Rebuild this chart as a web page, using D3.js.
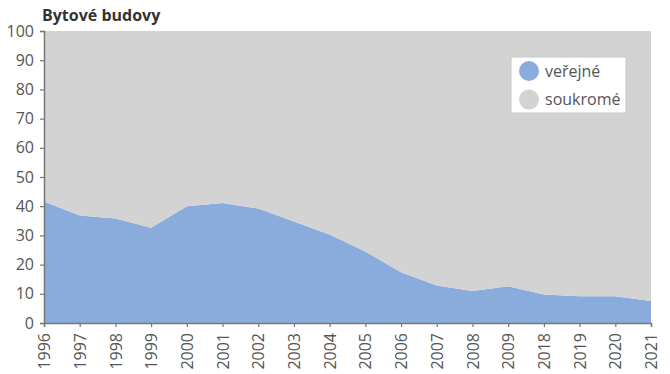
<!DOCTYPE html>
<html>
<head>
<meta charset="utf-8">
<script src="https://cdnjs.cloudflare.com/ajax/libs/d3/7.8.5/d3.min.js"></script>
<style>
  body { margin: 0; background: #fff; }
  text { font-family: "Open Sans", "Noto Sans", sans-serif; }
</style>
</head>
<body>
<script>
// data (share of public ownership, %)
var years = ["1996","1997","1998","1999","2000","2001","2002","2003","2004","2005","2006","2007","2008","2009","2018","2019","2020","2021"];
var verejne = [41.6, 36.8, 35.8, 32.6, 40.0, 41.1, 39.2, 34.8, 30.3, 24.5, 17.4, 12.8, 11.0, 12.6, 9.8, 9.2, 9.2, 7.5];
var yTicks = [0, 10, 20, 30, 40, 50, 60, 70, 80, 90, 100];
var legendLabels = ["veřejné", "soukromé"];
var colors = ["#8aacdd", "#d3d3d3"];

var width = 670, height = 374;
var margin = {top: 31, right: 19, bottom: 51, left: 44};

var svg = d3.select("body").append("svg")
    .attr("width", width)
    .attr("height", height);

var x = d3.scalePoint()
    .domain(years)
    .range([margin.left, width - margin.right]);

var y = d3.scaleLinear()
    .domain([0, 100])
    .range([height - margin.bottom, margin.top]);

var rows = years.map(function(yr, i) {
  return {year: yr, verejne: verejne[i], soukrome: 100 - verejne[i]};
});

var stack = d3.stack().keys(["verejne", "soukrome"]);
var series = stack(rows);

var area = d3.area()
    .x(function(d) { return x(d.data.year); })
    .y0(function(d) { return y(d[0]); })
    .y1(function(d) { return y(d[1]); });

svg.append("g")
  .selectAll("path")
  .data(series)
  .enter().append("path")
    .attr("d", area)
    .style("fill", function(d, i) { return colors[i]; });

// title
svg.append("text")
    .attr("x", 42)
    .attr("y", 21)
    .style("font-size", "16px")
    .style("font-weight", "bold")
    .style("fill", "#333")
    .text("Bytové budovy");

// axes
var yAxis = svg.append("g")
    .attr("transform", "translate(" + margin.left + ",0)")
    .call(d3.axisLeft(y).tickValues(yTicks).tickSize(4).tickPadding(6));

var xAxis = svg.append("g")
    .attr("transform", "translate(0," + (height - margin.bottom) + ")")
    .call(d3.axisBottom(x).tickSize(4).tickPadding(6));

xAxis.selectAll("text")
    .attr("transform", "rotate(-90)")
    .attr("x", -10)
    .attr("y", 0)
    .attr("dy", "0.35em")
    .style("text-anchor", "end");

[xAxis, yAxis].forEach(function(g) {
  g.select(".domain").style("stroke", "#777").style("stroke-width", 1.5);
  g.selectAll(".tick line").style("stroke", "#777").style("stroke-width", 1.2);
  g.selectAll("text").style("font-size", "16px").style("fill", "#555");
});

// legend
var legend = svg.append("g").attr("transform", "translate(511,57)");

legend.append("rect")
    .attr("width", 115)
    .attr("height", 56)
    .style("fill", "#fff")
    .style("stroke", "#c8c8c8");

var item = legend.selectAll("g.item")
    .data(legendLabels)
  .enter().append("g")
    .attr("class", "item")
    .attr("transform", function(d, i) { return "translate(0," + (14 + i * 28.6) + ")"; });

item.append("circle")
    .attr("cx", 18)
    .attr("cy", 0)
    .attr("r", 10)
    .style("fill", function(d, i) { return colors[i]; });

item.append("text")
    .attr("x", 34)
    .attr("y", 0)
    .attr("dy", "0.35em")
    .style("font-size", "16px")
    .style("fill", "#555")
    .text(function(d) { return d; });
</script>
</body>
</html>
